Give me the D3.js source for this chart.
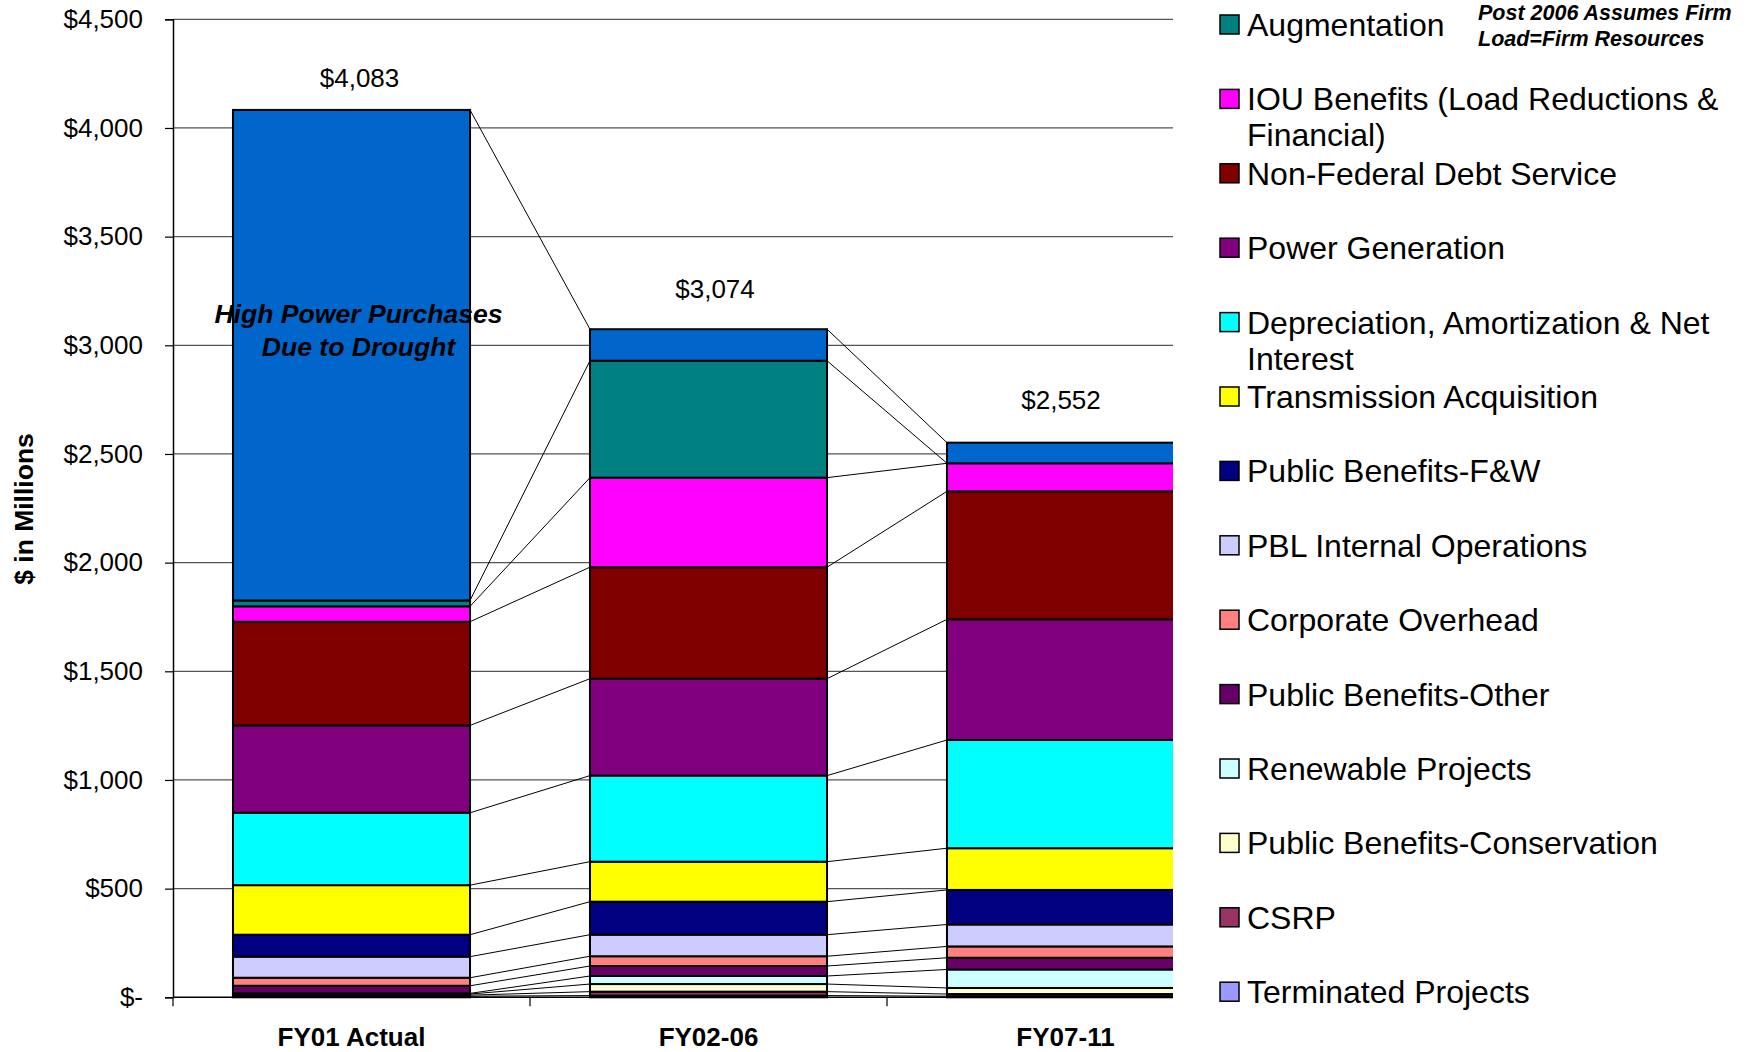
<!DOCTYPE html>
<html lang="en">
<head>
    <meta charset="UTF-8">
    <script src="https://d3js.org/d3.v7.min.js"></script>
    <style>
        body { margin: 0; background: #fff; }
        text { font-family: "Liberation Sans", Arial, sans-serif; }
    </style>
</head>
<body>
    <svg id="chart" width="1748" height="1052"></svg>
    <script>
        // categories (x axis)
        const categories = ["FY01 Actual", "FY02-06", "FY07-11"];

        // series, bottom of stack first ($ millions)
        const terminatedProjects  = [5, 8, 5];
        const csrp                = [5, 18, 10];
        const pbConservation      = [5, 35, 28];
        const renewableProjects   = [3, 37, 85];
        const pbOther             = [35, 46, 54];
        const corporateOverhead   = [37, 45, 52];
        const pblInternalOps      = [97, 99, 101];
        const pbFishWildlife      = [101, 152, 159];
        const transmissionAcq     = [228, 184, 192];
        const depreciation        = [333, 396, 498];
        const powerGeneration     = [402, 446, 555];
        const nonFederalDebt      = [477, 513, 589];
        const iouBenefits         = [71, 412, 129];
        const augmentation        = [27, 538, 0];
        const powerPurchases      = [2257, 145, 95];

        const seriesNames = [
            "Terminated Projects", "CSRP", "Public Benefits-Conservation", "Renewable Projects",
            "Public Benefits-Other", "Corporate Overhead", "PBL Internal Operations",
            "Public Benefits-F&W", "Transmission Acquisition",
            "Depreciation, Amortization & Net Interest", "Power Generation",
            "Non-Federal Debt Service", "IOU Benefits (Load Reductions & Financial)",
            "Augmentation", "Power Purchases"
        ];
        const seriesValues = [
            terminatedProjects, csrp, pbConservation, renewableProjects, pbOther,
            corporateOverhead, pblInternalOps, pbFishWildlife, transmissionAcq,
            depreciation, powerGeneration, nonFederalDebt, iouBenefits,
            augmentation, powerPurchases
        ];
        const seriesColors = [
            "#9999FF", "#993366", "#FFFFCC", "#CCFFFF", "#660066", "#FF8080", "#CCCCFF",
            "#000080", "#FFFF00", "#00FFFF", "#800080", "#800000", "#FF00FF",
            "#008080", "#0066CC"
        ];

        // legend text as shown (wrapped lines)
        const legendLines = {
            "IOU Benefits (Load Reductions & Financial)": ["IOU Benefits (Load Reductions &", "Financial)"],
            "Depreciation, Amortization & Net Interest": ["Depreciation, Amortization & Net", "Interest"]
        };

        const yTicks = [0, 500, 1000, 1500, 2000, 2500, 3000, 3500, 4000, 4500];

        const width = 1748, height = 1052;
        const plot = { left: 173, right: 1173, top: 19.3, bottom: 997.3 };
        // hand-placed total labels in the original: [dx from bar centre, dy from bar top]
        const totalNudge = [[8, -23], [6.5, -31], [-4.5, -34]];

        const svg = d3.select("#chart");

        // table for d3.stack
        const table = categories.map((c, i) => {
            const row = { cat: c };
            seriesNames.forEach((s, j) => row[s] = seriesValues[j][i]);
            return row;
        });
        const stacked = d3.stack().keys(seriesNames)(table);
        const totals = categories.map((c, i) => d3.sum(seriesValues, v => v[i]));

        const x = d3.scaleBand()
            .domain(categories)
            .range([plot.left, plot.left + 3 * 357])
            .paddingInner(0.336)
            .paddingOuter(0.168);

        const y = d3.scaleLinear()
            .domain([0, 4500])
            .range([plot.bottom, plot.top]);

        svg.append("clipPath").attr("id", "plotClip")
            .append("rect")
            .attr("x", plot.left).attr("y", 0)
            .attr("width", plot.right - plot.left).attr("height", plot.bottom + 4);

        // gridlines
        svg.append("g")
            .selectAll("line")
            .data(yTicks.filter(d => d > 0))
            .enter().append("line")
            .attr("x1", plot.left).attr("x2", plot.right)
            .attr("y1", d => y(d)).attr("y2", d => y(d))
            .attr("stroke", "#555")
            .attr("stroke-width", 1.3);

        // y axis
        const yAxis = svg.append("g")
            .attr("transform", `translate(${plot.left},0)`)
            .call(d3.axisLeft(y)
                .tickValues(yTicks)
                .tickSize(8)
                .tickPadding(22)
                .tickFormat(d => d === 0 ? "$-" : d3.format("$,")(d)));
        yAxis.select(".domain").attr("stroke", "#000").attr("stroke-width", 1.5);
        yAxis.selectAll(".tick line").attr("stroke", "#000").attr("stroke-width", 1.2);
        yAxis.selectAll("text")
            .style("font-size", "26px")
            .attr("fill", "#000");

        svg.append("text")
            .attr("transform", "translate(33,509) rotate(-90)")
            .attr("text-anchor", "middle")
            .style("font-size", "26.5px")
            .style("font-weight", "bold")
            .text("$ in Millions");

        const plotG = svg.append("g").attr("clip-path", "url(#plotClip)");

        // series lines between bars
        const links = [];
        stacked.forEach(layer => {
            for (let i = 0; i < categories.length - 1; i++) {
                links.push({
                    x1: x(categories[i]) + x.bandwidth(), y1: y(layer[i][1]),
                    x2: x(categories[i + 1]), y2: y(layer[i + 1][1])
                });
            }
        });
        plotG.append("g")
            .selectAll("line")
            .data(links)
            .enter().append("line")
            .attr("x1", d => d.x1).attr("y1", d => d.y1)
            .attr("x2", d => d.x2).attr("y2", d => d.y2)
            .attr("stroke", "#000")
            .attr("stroke-width", 1);

        // stacked bars
        plotG.append("g")
            .selectAll("g")
            .data(stacked)
            .enter().append("g")
            .attr("fill", (d, i) => seriesColors[i])
            .selectAll("rect")
            .data(d => d)
            .enter().append("rect")
            .attr("x", d => x(d.data.cat))
            .attr("y", d => y(d[1]))
            .attr("width", x.bandwidth())
            .attr("height", d => y(d[0]) - y(d[1]))
            .attr("stroke", "#000")
            .attr("stroke-width", 2);

        // x axis
        const xAxis = svg.append("g")
            .attr("transform", `translate(0,${plot.bottom})`)
            .call(d3.axisBottom(x).tickSize(0).tickPadding(30));
        xAxis.select(".domain").remove();
        xAxis.selectAll("text")
            .style("font-size", "26px")
            .style("font-weight", "bold")
            .attr("fill", "#000");

        svg.append("line")
            .attr("x1", plot.left).attr("x2", plot.right)
            .attr("y1", plot.bottom).attr("y2", plot.bottom)
            .attr("stroke", "#000").attr("stroke-width", 1.5);

        const gap = x.step() * x.paddingInner() / 2;
        svg.append("g")
            .selectAll("line")
            .data(categories)
            .enter().append("line")
            .attr("x1", d => x(d) - gap).attr("x2", d => x(d) - gap)
            .attr("y1", plot.bottom).attr("y2", plot.bottom + 9)
            .attr("stroke", "#000").attr("stroke-width", 1.2);

        // totals above bars
        svg.append("g")
            .selectAll("text")
            .data(categories)
            .enter().append("text")
            .attr("x", (d, i) => x(d) + x.bandwidth() / 2 + totalNudge[i][0])
            .attr("y", (d, i) => y(totals[i]) + totalNudge[i][1])
            .attr("text-anchor", "middle")
            .style("font-size", "26px")
            .text((d, i) => d3.format("$,")(totals[i]));

        // annotation on the first bar
        const noteX = x(categories[0]) + x.bandwidth() / 2 + 7;
        const note = svg.append("text")
            .attr("x", noteX)
            .attr("y", 323)
            .attr("text-anchor", "middle")
            .style("font-size", "26.6px")
            .style("font-weight", "bold")
            .style("font-style", "italic");
        note.append("tspan").text("High Power Purchases");
        note.append("tspan")
            .attr("x", noteX)
            .attr("dy", 33)
            .text("Due to Drought");

        // legend (top series is cut off in the original)
        const legendItems = seriesNames.slice(0, -1).map((s, i) => ({ name: s, color: seriesColors[i] })).reverse();
        const legend = svg.append("g")
            .selectAll("g")
            .data(legendItems)
            .enter().append("g")
            .attr("transform", (d, i) => `translate(1220,${36 + i * 74.4})`);
        legend.append("rect")
            .attr("x", 0).attr("y", -21)
            .attr("width", 19).attr("height", 19)
            .attr("fill", d => d.color)
            .attr("stroke", "#000")
            .attr("stroke-width", 1.5);
        const legendText = legend.append("text")
            .attr("x", 27)
            .attr("y", 0)
            .style("font-size", "32px");
        legendText.selectAll("tspan")
            .data(d => legendLines[d.name] || [d.name])
            .enter().append("tspan")
            .attr("x", 27)
            .attr("dy", (d, i) => i === 0 ? 0 : 36)
            .text(d => d);

        const post = svg.append("text")
            .attr("x", 1478)
            .attr("y", 20)
            .style("font-size", "21.5px")
            .style("font-weight", "bold")
            .style("font-style", "italic");
        post.append("tspan").text("Post 2006 Assumes Firm");
        post.append("tspan").attr("x", 1478).attr("dy", 26).text("Load=Firm Resources");
    </script>
</body>
</html>
